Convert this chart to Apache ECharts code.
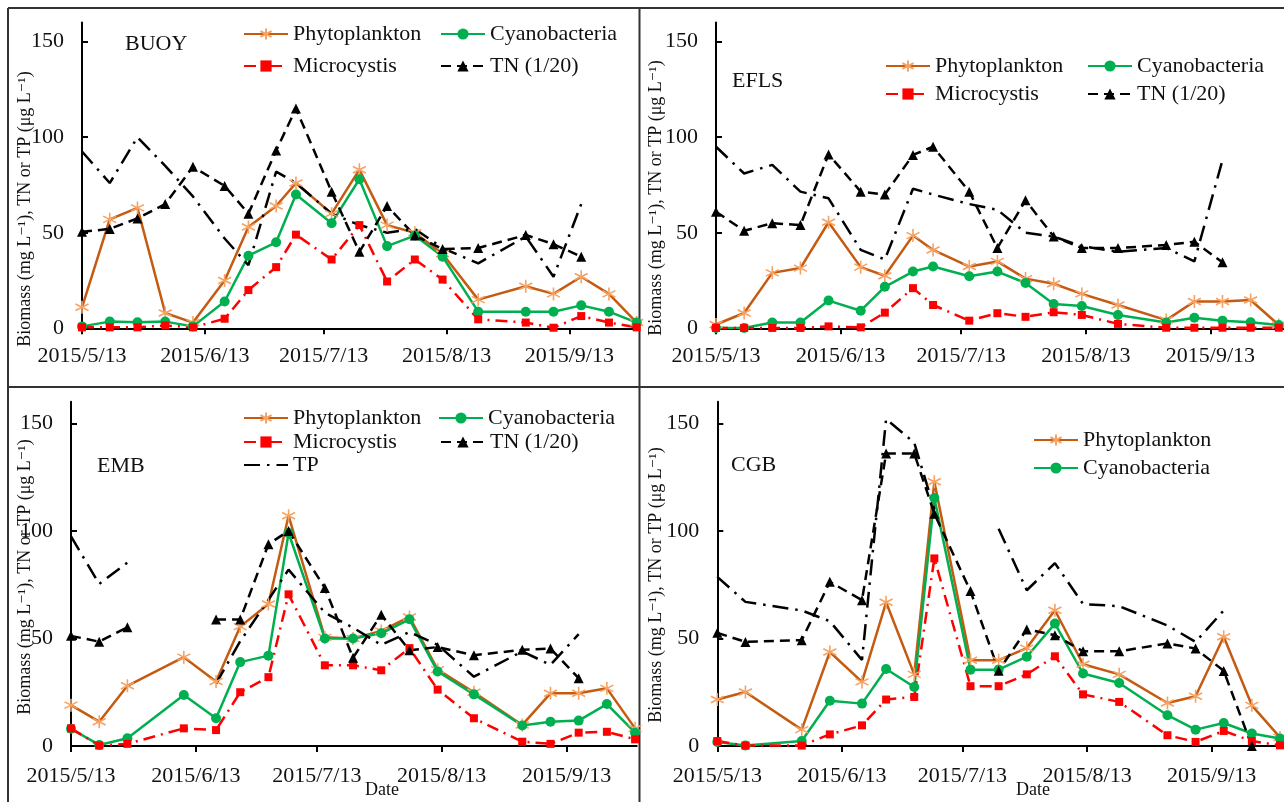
<!DOCTYPE html>
<html><head><meta charset="utf-8">
<script src="https://cdn.jsdelivr.net/npm/echarts@6/dist/echarts.min.js"></script>
<style>html,body{margin:0;padding:0;background:#fff}#c{width:1284px;height:802px}</style>
</head><body><div id="c"></div><script>
// ---------- data ----------
const tickLabels = ['2015/5/13', '2015/6/13', '2015/7/13', '2015/8/13', '2015/9/13'];
const yTickValues = [0, 50, 100, 150];
const yAxisTitle = 'Biomass (mg L\u207B\u00B9), TN or TP (\u03BCg L\u207B\u00B9)';

const datesTop = ['2015-05-13','2015-05-20','2015-05-27','2015-06-03','2015-06-10','2015-06-18','2015-06-24','2015-07-01','2015-07-06','2015-07-15','2015-07-22','2015-07-29','2015-08-05','2015-08-12','2015-08-21','2015-09-02','2015-09-09','2015-09-16','2015-09-23','2015-09-30'];
const datesEMB = ['2015-05-13','2015-05-20','2015-05-27','2015-06-10','2015-06-18','2015-06-24','2015-07-01','2015-07-06','2015-07-15','2015-07-22','2015-07-29','2015-08-05','2015-08-12','2015-08-21','2015-09-02','2015-09-09','2015-09-16','2015-09-23','2015-09-30'];
const datesCGB = ['2015-05-13','2015-05-20','2015-06-03','2015-06-10','2015-06-18','2015-06-24','2015-07-01','2015-07-06','2015-07-15','2015-07-22','2015-07-29','2015-08-05','2015-08-12','2015-08-21','2015-09-02','2015-09-09','2015-09-16','2015-09-23','2015-09-30'];

const buoyPhyto = [11, 57, 63, 8, 3, 25, 53, 64, 76, 60, 83, 54, 50, 39, 15, 22, 18, 27, 18, 3];
const buoyCyano = [1, 3.5, 3.2, 3.5, 1, 14, 38, 45, 70, 55, 78, 43, 48.5, 37.5, 8.7, 8.7, 8.7, 12, 8.7, 3];
const buoyMicro = [0.5, 0.5, 0.5, 1.5, 0.5, 5, 20, 32, 49, 36, 54, 24.5, 36, 25.5, 4.7, 3, 0.3, 6.4, 3, 0.5];
const buoyTN    = [50.5, 52, 57.5, 65, 84.5, 74.5, 60, 93, 115, 71.5, 40, 64, 48.5, 41.5, 42, 48.8, 44, 37.5, null, null];
const buoyTP    = [92.5, 76, 100, 85, 69, 47, 33, 82, 76, 60, 54, 50, 52, 42, 34, 48, 27, 65, null, null];

const eflsPhyto = [2, 8, 29, 31.5, 55.5, 32, 27.5, 48.5, 41, 32.3, 35, 26, 23.3, 18, 12.2, 4.3, 14, 14, 14.8, 1.7];
const eflsCyano = [0.2, 0.2, 3, 3, 14.5, 9.2, 21.7, 29.7, 32.3, 27.2, 29.7, 23.7, 12.7, 11.7, 7, 3, 5.5, 4, 3.2, 1.7];
const eflsMicro = [0.2, 0.2, 0.2, 0.2, 1, 0.5, 8.2, 21, 12.2, 4, 7.9, 6, 8.4, 7, 2.3, 0.3, 0.3, 0.3, 0.3, 0.3];
const eflsTN    = [61, 51, 55, 54, 91, 71.5, 70, 90.7, 95, 71.5, 42, 67, 48, 42, 42, 43.6, 45.3, 34.5, null, null];
const eflsTP    = [95, 81, 85.5, 71.5, 68, 41, 36, 73, 70, 65, 62, 50, 48, 43, 40, 42, 35, 88, null, null];

const embPhyto = [19, 11.3, 28, 41.3, 30, 55.5, 66, 107, 50.5, 50, 53.5, 60, 35.5, 25, 9.8, 24.5, 24.5, 26.8, 8.2];
const embCyano = [8, 0.5, 3.6, 23.7, 12.9, 39, 42, 99, 50, 50, 52.4, 58.9, 34.6, 24, 9.5, 11.3, 11.8, 19.5, 6.2];
const embMicro = [8.2, 0.2, 1, 8.2, 7.4, 25, 32, 70.5, 37.5, 37.5, 35.2, 45.5, 26.2, 12.9, 2, 1, 6.2, 6.6, 3.1];
const embTN    = [51.2, 48.5, 55.2, null, 58.8, 58.8, 93.8, 100, 73.5, 41, 61, 44.5, 46, 42.2, 44.7, 45.3, 31.5, null, null];
const embTP    = [97.4, 75.3, 85.3, null, 29, 48.7, 68, 82, 62, 55, 47, 53, 47, 32.2, 44, 37.7, 52, null, null];

const cgbPhyto = [21.6, 25.1, 7.6, 43.7, 29.8, 66.8, 33.3, 122.8, 39.9, 39.9, 45.5, 63.1, 38, 33.3, 20, 23.1, 50.8, 18.9, 4];
const cgbCyano = [1.9, 0.2, 2.3, 21, 19.7, 35.8, 27.4, 115.3, 35.5, 35.5, 41.5, 56.9, 33.7, 29.3, 14.3, 7.6, 10.7, 5.8, 3.5];
const cgbMicro = [2.3, 0.2, 0.2, 5.4, 9.6, 21.6, 22.8, 87.2, 27.8, 27.8, 33.3, 41.7, 24, 20.5, 5, 1.9, 7, 2.3, 0.3];
const cgbTN    = [52.6, 48.4, 49.2, 76.3, 67.8, 136, 136, 108, 72, 35, 54.2, 51.5, 44, 44, 47.7, 45.3, 34.9, 0, null];
const cgbTP    = [78.6, 67, 63, 58, 40, 152, 141, 110, null, 101, 72.4, 85, 66, 65, 56, 48.4, 63, null, null];

const panelNames = ['BUOY', 'EFLS', 'EMB', 'CGB'];

// ---------- assembly ----------
const FONT = '"Liberation Serif", "Times New Roman", "DejaVu Serif", serif';
const TXT = '#111';
function dayOf(s) {
  const p = s.split(/[-\/]/).map(Number);
  return (Date.UTC(p[0], p[1] - 1, p[2]) - Date.UTC(2015, 4, 13)) / 86400000;
}
const tickDays = tickLabels.map(dayOf);

const panels = [
  { dates: datesTop, phyto: buoyPhyto, cyano: buoyCyano, micro: buoyMicro, tn: buoyTN, tp: buoyTP },
  { dates: datesTop, phyto: eflsPhyto, cyano: eflsCyano, micro: eflsMicro, tn: eflsTN, tp: eflsTP },
  { dates: datesEMB, phyto: embPhyto, cyano: embCyano, micro: embMicro, tn: embTN, tp: embTP },
  { dates: datesCGB, phyto: cgbPhyto, cyano: cgbCyano, micro: cgbMicro, tn: cgbTN, tp: cgbTP }
];
const layout = [
  { left: 82, top: 22.5, width: 554.7, height: 305.8, xMax: 140 },
  { left: 716, top: 22.5, width: 568, height: 305.8, xMax: 141.3 },
  { left: 71, top: 401.8, width: 565.7, height: 344.2, xMax: 140.4 },
  { left: 717.3, top: 401.8, width: 574, height: 344.2, xMax: 141 }
];

const STAR = 'path://M10,0L10,20M1.34,5L18.66,15M1.34,15L18.66,5';
const styles = {
  phyto: { name: 'Phytoplankton', symbol: STAR, symbolSize: 13,
    itemStyle: { color: 'rgba(255,255,255,0)', borderColor: '#F5A262', borderWidth: 1.6 },
    lineStyle: { color: '#C55A11', width: 2.5, type: 'solid' } },
  cyano: { name: 'Cyanobacteria', symbol: 'circle', symbolSize: 10,
    itemStyle: { color: '#00B050' }, lineStyle: { color: '#00B050', width: 2.5, type: 'solid' } },
  micro: { name: 'Microcystis', symbol: 'rect', symbolSize: 8,
    itemStyle: { color: '#FF0000' }, lineStyle: { color: '#FF0000', width: 2.5, type: [12, 6, 2, 6] } },
  tn: { name: 'TN (1/20)', symbol: 'triangle', symbolSize: 10,
    itemStyle: { color: '#000' }, lineStyle: { color: '#000', width: 2.5, type: [10, 6] } },
  tp: { name: 'TP', symbol: 'none', symbolSize: 0,
    itemStyle: { color: '#000' }, lineStyle: { color: '#000', width: 2.5, type: [16, 7, 2.5, 7] } }
};
const order = ['phyto', 'cyano', 'micro', 'tn', 'tp'];

const grid = [], xAxis = [], yAxis = [], series = [];
panels.forEach((p, i) => {
  const L = layout[i];
  grid.push({ left: L.left, top: L.top, width: L.width, height: L.height, containLabel: false });
  xAxis.push({
    type: 'value', gridIndex: i, min: 0, max: L.xMax,
    axisLine: { show: true, lineStyle: { color: '#000', width: 2 } },
    axisTick: { show: true, customValues: tickDays, length: 6, inside: false, lineStyle: { color: '#000', width: 2 } },
    axisLabel: { customValues: tickDays, margin: i < 2 ? 17 : 19, fontFamily: FONT, fontSize: 22, color: TXT,
      formatter: v => { const k = tickDays.indexOf(v); return k >= 0 ? tickLabels[k] : ''; } },
    splitLine: { show: false }
  });
  yAxis.push({
    type: 'value', gridIndex: i, min: 0, max: 160,
    axisLine: { show: true, lineStyle: { color: '#000', width: 2 } },
    axisTick: { show: true, customValues: yTickValues, length: 6, inside: true, lineStyle: { color: '#000', width: 2 } },
    axisLabel: { customValues: yTickValues, margin: 18, fontFamily: FONT, fontSize: 22, color: TXT },
    splitLine: { show: false }
  });
  const xs = p.dates.map(dayOf);
  order.forEach(key => {
    const st = styles[key];
    series.push({
      type: 'line', name: st.name, xAxisIndex: i, yAxisIndex: i,
      symbol: st.symbol, symbolSize: st.symbolSize, showSymbol: st.symbol !== 'none',
      itemStyle: st.itemStyle, lineStyle: st.lineStyle,
      connectNulls: false, clip: true, silent: true,
      data: xs.map((x, k) => [x, p[key][k]])
    });
  });
});

// legends: [name, left, top]
const legendItems = [
  ['Phytoplankton', 243, 23], ['Cyanobacteria', 440, 23], ['Microcystis', 243, 55], ['TN (1/20)', 440, 55],
  ['Phytoplankton', 885, 55], ['Cyanobacteria', 1087, 55], ['Microcystis', 885, 83], ['TN (1/20)', 1087, 83],
  ['Phytoplankton', 243, 407], ['Cyanobacteria', 438, 407], ['Microcystis', 243, 431], ['TN (1/20)', 440, 431], ['TP', 243, 454],
  ['Phytoplankton', 1033, 429], ['Cyanobacteria', 1033, 457]
];
const legend = legendItems.map(([n, l, t]) => ({
  data: [n === 'TP' ? { name: n, itemStyle: { opacity: 0 } } : n],
  left: l, top: t, padding: 0, itemWidth: 44, itemHeight: 14, itemGap: 0,
  selectedMode: false, textStyle: { fontFamily: FONT, fontSize: 22, color: TXT }
}));

const graphic = [];
const lineEl = (x1, y1, x2, y2) => ({ type: 'line', silent: true, shape: { x1, y1, x2, y2 }, style: { stroke: '#333', lineWidth: 2 } });
graphic.push(lineEl(8, 8, 1284, 8), lineEl(8, 8, 8, 802), lineEl(639.5, 8, 639.5, 802), lineEl(8, 387, 1284, 387));
const titlePos = [[25, 209], [656, 198], [25, 577], [656, 585]];
titlePos.forEach(([x, y]) => graphic.push({ type: 'text', silent: true, x, y, rotation: Math.PI / 2,
  style: { text: yAxisTitle, font: '18px ' + FONT, fill: TXT, align: 'center', verticalAlign: 'middle' } }));
const namePos = [[125, 44], [732, 81], [97, 466], [731, 465]];
namePos.forEach(([x, y], i) => graphic.push({ type: 'text', silent: true, x, y,
  style: { text: panelNames[i], font: '22px ' + FONT, fill: TXT, align: 'left', verticalAlign: 'middle' } }));
[[382, 790], [1033, 790]].forEach(([x, y]) => graphic.push({ type: 'text', silent: true, x, y,
  style: { text: 'Date', font: '18px ' + FONT, fill: TXT, align: 'center', verticalAlign: 'middle' } }));

const chart = echarts.init(document.getElementById('c'), null, { renderer: 'canvas' });
chart.setOption({
  animation: false, backgroundColor: '#fff',
  textStyle: { fontFamily: FONT },
  grid, xAxis, yAxis, series, legend, graphic
});
</script></body></html>
